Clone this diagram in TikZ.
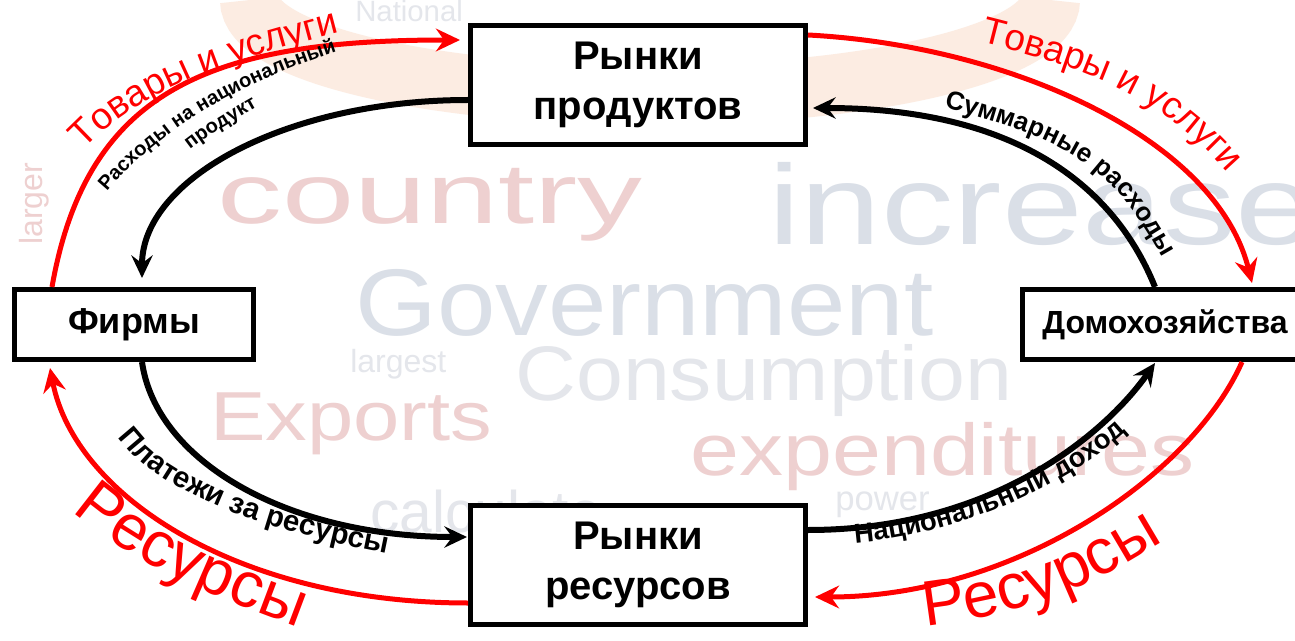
\documentclass[tikz,border=0pt]{standalone}
\usepackage{fontspec}
\setmainfont{Liberation Sans}
\usetikzlibrary{arrows.meta,decorations.text,calc}
\definecolor{flowred}{RGB}{255,0,0}
\definecolor{bgpink}{RGB}{238,208,208}
\definecolor{bgblue}{RGB}{218,223,231}
\definecolor{bggray}{RGB}{228,230,235}
\definecolor{bgpeach}{RGB}{252,236,226}
\newcommand{\redlab}{\fontsize{28}{28}\selectfont}
\newcommand{\bigred}{\fontsize{48}{48}\selectfont}
\newcommand{\blklab}{\bfseries\fontsize{20.5}{20.5}\selectfont}
\newcommand{\sumlab}{\bfseries\fontsize{19.5}{19.5}\selectfont}
\newcommand{\paylab}{\bfseries\fontsize{22}{22}\selectfont}
\newcommand{\smllab}{\bfseries\fontsize{15}{15}\selectfont}
\begin{document}
\begin{tikzpicture}[x=0.75pt,y=0.75pt,
  market/.style={draw=black, line width=3.75pt, fill=white, inner sep=0pt, align=center,
     minimum width=251.25pt, minimum height=89.25pt, font=\bfseries\fontsize{30}{37.5}\selectfont},
  agent/.style={draw=black, line width=3.75pt, fill=white, inner sep=0pt,
     minimum height=52.5pt, font=\bfseries\fontsize{24}{28}\selectfont},
  redflow/.style={draw=flowred, line width=3.75pt, -{Stealth[length=18pt,width=17pt,inset=6pt]}},
  blackflow/.style={draw=black, line width=4.5pt, -{Stealth[length=17pt,width=16pt,inset=6pt]}},
  bgword/.style={inner sep=0pt, anchor=base west, transform shape},
]
\useasboundingbox (0,0) rectangle (1295,640);
\fill[white] (0,0) rectangle (1295,640);

% faint background
\draw[bgpeach, line width=45pt] (250,640) arc[start angle=180, end angle=360, x radius=400, y radius=95];
\begin{scope}[shift={(217,416)}]\node[bgword, text=bgpink, xscale=1.52, font=\fontsize{64}{64}\selectfont] (w1) at (0,0) {country};\end{scope}
\begin{scope}[shift={(768,395)}]\node[bgword, text=bgblue, xscale=1.28, font=\fontsize{85}{85}\selectfont] (w2) at (0,0) {increase};\end{scope}
\begin{scope}[shift={(355,305)}]\node[bgword, text=bgblue, xscale=1.11, font=\fontsize{71}{71}\selectfont] (w3) at (0,0) {Government};\end{scope}
\begin{scope}[shift={(515,240)}]\node[bgword, text=bggray, xscale=1.09, font=\fontsize{58}{58}\selectfont] (w4) at (0,0) {Consumption};\end{scope}
\begin{scope}[shift={(210,200)}]\node[bgword, text=bgpink, xscale=1.2, font=\fontsize{52}{52}\selectfont] (w5) at (0,0) {Exports};\end{scope}
\begin{scope}[shift={(690,165)}]\node[bgword, text=bgpink, xscale=1.2, font=\fontsize{55}{55}\selectfont] (w6) at (0,0) {expenditures};\end{scope}
\begin{scope}[shift={(350,268)}]\node[bgword, text=bggray, font=\fontsize{24}{24}\selectfont] (w7) at (0,0) {largest};\end{scope}
\begin{scope}[shift={(835,130)}]\node[bgword, text=bggray, font=\fontsize{26}{26}\selectfont] (w8) at (0,0) {power};\end{scope}
\begin{scope}[shift={(370,108)}]\node[bgword, text=bggray, font=\fontsize{44}{44}\selectfont] (w9) at (0,0) {calculate};\end{scope}
\begin{scope}[shift={(355,618)}]\node[bgword, text=bggray, font=\fontsize{22}{22}\selectfont] (w10) at (0,0) {National};\end{scope}
\begin{scope}[shift={(42,395)}]\node[bgword, text=bgpink, rotate=90, font=\fontsize{24}{24}\selectfont] (w11) at (0,0) {larger};\end{scope}

% boxes
\node[market] (pm) at (638,555) {Рынки\\продуктов};
\node[market] (rm) at (638,75) {Рынки\\ресурсов};
\node[agent, minimum width=179.25pt, font=\bfseries\fontsize{27}{30}\selectfont] (firms) at (134,315.5) {Фирмы};
\node[agent, minimum width=213.75pt] (hh) at (1165,315.5) {Домохозяйства};

% flows
\draw[redflow] ($(firms.north west)+(40,0)$) .. controls +(80:200) and +(180:250) .. ($(pm.north west)+(-8,-17)$);
\draw[blackflow] ($(pm.north west)+(0,-77)$) .. controls +(180:180) and +(90:100) .. ($(firms.north west)+(130,9)$);
\draw[redflow] ($(pm.north east)+(0,-12)$) .. controls +(-3:200) and +(104:150) .. ($(hh.north west)+(232,4)$);
\draw[blackflow] ($(hh.north west)+(135,0)$) .. controls +(112:120) and +(0:190) .. ($(pm.north east)+(5,-85)$);
\draw[redflow] ($(rm.south west)+(0,24)$) .. controls +(180:230) and +(-79:130) .. ($(firms.south west)+(38,-6)$);
\draw[blackflow] ($(firms.south west)+(130,0)$) .. controls +(-82:100) and +(180:180) .. ($(rm.north west)+(-1,-34)$);
\draw[blackflow] ($(rm.north east)+(0,-27)$) .. controls +(0:190) and +(235:80) .. ($(hh.south west)+(135,-1)$);
\draw[redflow] ($(hh.south west)+(222,0)$) .. controls +(-114:125) and +(0:200) .. ($(rm.south east)+(7,30)$);

% labels along the flows
\path[decorate, decoration={text along path, text={|\redlab|Товары и услуги}, text color=flowred, text align=left}]
  (84,490) .. controls +(47:100) and +(195:100) .. (360,613);
\path[decorate, decoration={text along path, text={|\smllab|Расходы на национальный}, text align=left}]
  (107,448) .. controls +(50:100) and +(197:100) .. (360,596);
\path[decorate, decoration={text along path, text={|\smllab|продукт}, text align=left}]
  (190,490) .. controls +(38:40) and +(212:40) .. (290,552);
\path[decorate, decoration={text along path, text={|\redlab|Товары и услуги}, text color=flowred, text align=left}]
  (980,598) .. controls +(-14:140) and +(128:120) .. (1250,440);
\path[decorate, decoration={text along path, text={|\sumlab|Суммарные расходы}, text align=left}]
  (944,532) .. controls +(-14:160) and +(118:120) .. (1180,350);
\path[decorate, decoration={text along path, text={|\paylab|Платежи за ресурсы}, text align=left}]
  (118,203) .. controls +(-55:80) and +(170:120) .. (420,80);
\path[decorate, decoration={text along path, text={|\bigred|Ресурсы}, text color=flowred, text align=left}]
  (72,129) .. controls +(-42:90) and +(160:90) .. (335,-1);
\path[decorate, decoration={text along path, text={|\blklab|Национальный доход}, text align=left}]
  (855,97) .. controls +(5:120) and +(230:80) .. (1145,228);
\path[decorate, decoration={text along path, text={|\bigred|Ресурсы}, text color=flowred, text align=left}]
  (925,14) .. controls +(6:140) and +(213:90) .. (1215,132);
\end{tikzpicture}
\end{document}
